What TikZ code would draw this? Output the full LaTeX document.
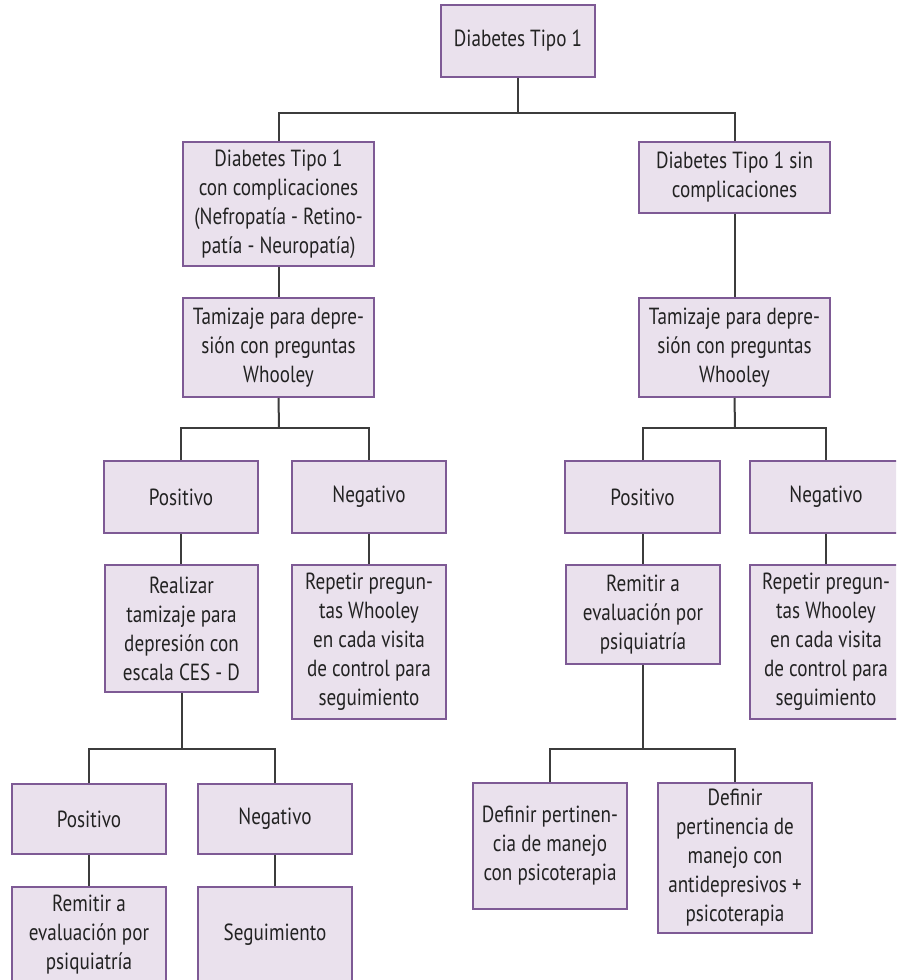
\documentclass[tikz,border=0pt]{standalone}
\usepackage{fontspec}
\setmainfont{PT Sans}[FakeStretch=0.82]
\definecolor{boxfill}{HTML}{EAE1ED}
\definecolor{boxline}{HTML}{7E5A95}
\definecolor{linkline}{HTML}{3C3C3C}
\definecolor{txt}{HTML}{222222}
\tikzset{
  flowbox/.style={draw=boxline, fill=boxfill, line width=1.5pt, align=center,
    text=txt, inner sep=0pt, font={\fontsize{17.5pt}{21.75pt}\selectfont}},
  link/.style={draw=linkline, line width=1.5pt}
}
\begin{document}
\begin{tikzpicture}[x=0.75pt, y=-0.75pt]
\useasboundingbox (0,0) rectangle (896,980);
\clip (0,0) rectangle (896,980);

% level 0
\node[flowbox, minimum width=115.5pt, minimum height=54pt] (top) at (518,41) {Diabetes Tipo 1};

% level 1
\node[flowbox, minimum width=143.25pt, minimum height=93pt] (c1) at (278.5,204)
  {Diabetes Tipo 1\\con complicaciones\\(Nefropatía - Retino-\\patía - Neuropatía)};
\node[flowbox, minimum width=143.25pt, minimum height=53.25pt] (c2) at (734.5,177.5)
  {Diabetes Tipo 1 sin\\complicaciones};

% screening
\node[flowbox, minimum width=143.25pt, minimum height=74.25pt] (t1) at (278.5,347.5)
  {Tamizaje para depre-\\sión con preguntas\\Whooley};
\node[flowbox, minimum width=143.25pt, minimum height=74.25pt] (t2) at (734.5,347.5)
  {Tamizaje para depre-\\sión con preguntas\\Whooley};

% results of the screening
\node[flowbox, minimum width=115.5pt, minimum height=54pt] (p1) at (181,497) {Positivo};
\node[flowbox, minimum width=115.5pt, minimum height=54pt] (n1) at (369,497) {Negativo};
\node[flowbox, minimum width=116.25pt, minimum height=54pt] (p2) at (642.5,497) {Positivo};
\node[flowbox, minimum width=114pt, minimum height=54pt] (n2) at (826,497) {Negativo};

% follow-up actions
\node[flowbox, minimum width=114.75pt, minimum height=95.25pt] (r1) at (181.5,628.5)
  {Realizar\\tamizaje para\\depresión con\\escala CES - D};
\node[flowbox, minimum width=115.5pt, minimum height=115.5pt] (q1) at (369,642)
  {Repetir pregun-\\tas Whooley\\en cada visita\\de control para\\seguimiento};
\node[flowbox, minimum width=115.5pt, minimum height=74.25pt] (r2) at (643,614.5)
  {Remitir a\\evaluación por\\psiquiatría};
\node[flowbox, minimum width=114pt, minimum height=115.5pt] (q2) at (826,641.5)
  {Repetir pregun-\\tas Whooley\\en cada visita\\de control para\\seguimiento};

% CES-D results
\node[flowbox, minimum width=115.5pt, minimum height=52.5pt] (pp) at (89,819) {Positivo};
\node[flowbox, minimum width=115.5pt, minimum height=52.5pt] (nn) at (275,819) {Negativo};
\node[flowbox, minimum width=115.5pt, minimum height=72pt] (rm) at (89,935)
  {Remitir a\\evaluación por\\psiquiatría};
\node[flowbox, minimum width=115.5pt, minimum height=72pt] (sg) at (275,935) {Seguimiento};

% management options
\node[flowbox, minimum width=115.5pt, minimum height=94.5pt] (d1) at (550,846)
  {Definir pertinen-\\cia de manejo\\con psicoterapia};
\node[flowbox, minimum width=115.5pt, minimum height=112.5pt] (d2) at (735,858)
  {Definir\\pertinencia de\\manejo con\\antidepresivos +\\psicoterapia};

% junctions of the branches
\coordinate (j0) at (518,113);
\coordinate (j1) at (279,428);
\coordinate (j2) at (735,428);
\coordinate (j3) at (181,749);
\coordinate (j4) at (642,749);

\path[link] (top.south) -- (j0);
\path[link] (c1.north) |- (j0);
\path[link] (c2.north) |- (j0);
\path[link] (c1.south) -- (t1.north);
\path[link] (c2.south) -- (t2.north);

\path[link] (t1.south) -- (j1);
\path[link] (p1.north) |- (j1);
\path[link] (n1.north) |- (j1);
\path[link] (t2.south) -- (j2);
\path[link] (p2.north) |- (j2);
\path[link] (n2.north) |- (j2);

\path[link] (p1.south) -- (p1.south |- r1.north);
\path[link] (n1.south) -- (q1.north);
\path[link] (p2.south) -- (p2.south |- r2.north);
\path[link] (n2.south) -- (q2.north);

\path[link] (r1.south) -- (r1.south |- j3);
\path[link] (pp.north) |- (j3);
\path[link] (nn.north) |- (j3);
\path[link] (r2.south) -- (r2.south |- j4);
\path[link] (d1.north) |- (j4);
\path[link] (d2.north) |- (j4);

\path[link] (pp.south) -- (rm.north);
\path[link] (nn.south) -- (sg.north);
\end{tikzpicture}
\end{document}
